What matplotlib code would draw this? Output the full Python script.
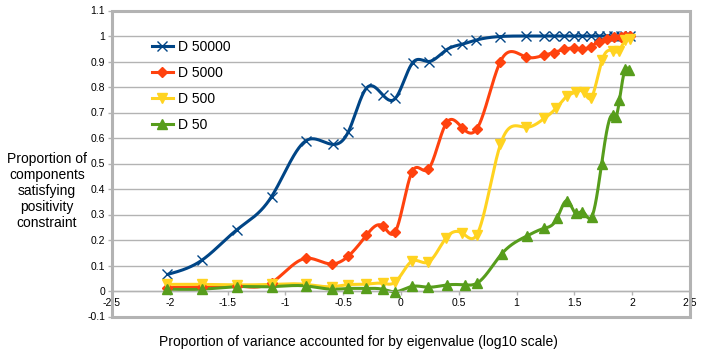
import numpy as np
import matplotlib
matplotlib.use('Agg')
import matplotlib.pyplot as plt
from matplotlib.patches import Rectangle

plt.rcParams['font.family'] = ['Liberation Sans', 'DejaVu Sans']

# series
x_50000 = [-2.02, -1.725, -1.42, -1.12, -0.82, -0.59, -0.455, -0.30, -0.16, -0.05,
           0.10, 0.24, 0.39, 0.53, 0.65, 0.86, 1.085, 1.24, 1.32, 1.41, 1.50, 1.57,
           1.64, 1.71, 1.78, 1.84, 1.90, 1.94, 1.98]
y_50000 = [0.065, 0.12, 0.24, 0.37, 0.59, 0.575, 0.625, 0.795, 0.77, 0.755,
           0.895, 0.90, 0.945, 0.968, 0.984, 0.998, 1.0, 1.0, 1.0, 1.0, 1.0, 1.0,
           1.0, 1.0, 1.0, 1.0, 1.0, 1.0, 1.0]

x_5000 = [-2.02, -1.725, -1.42, -1.12, -0.825, -0.60, -0.455, -0.30, -0.16, -0.05,
          0.095, 0.235, 0.39, 0.53, 0.655, 0.86, 1.085, 1.24, 1.32, 1.41, 1.50, 1.57,
          1.64, 1.71, 1.78, 1.84, 1.90, 1.94, 1.98]
y_5000 = [0.013, 0.017, 0.02, 0.033, 0.128, 0.106, 0.137, 0.218, 0.255, 0.232,
          0.467, 0.477, 0.657, 0.64, 0.635, 0.90, 0.917, 0.925, 0.935, 0.948, 0.952, 0.948,
          0.958, 0.978, 0.99, 0.995, 0.998, 1.0, 1.0]

x_500 = [-2.02, -1.725, -1.42, -1.12, -0.825, -0.60, -0.455, -0.30, -0.16, -0.05,
         0.095, 0.235, 0.39, 0.53, 0.655, 0.86, 1.085, 1.24, 1.34, 1.44, 1.51, 1.58,
         1.64, 1.74, 1.83, 1.885, 1.94, 1.98]
y_500 = [0.026, 0.026, 0.024, 0.026, 0.026, 0.017, 0.025, 0.027, 0.03, 0.035,
         0.117, 0.113, 0.208, 0.227, 0.22, 0.575, 0.642, 0.677, 0.716, 0.765, 0.78, 0.78,
         0.755, 0.906, 0.942, 0.942, 0.984, 0.99]

x_50 = [-2.02, -1.725, -1.42, -1.12, -0.825, -0.60, -0.455, -0.30, -0.16, -0.05,
        0.095, 0.235, 0.40, 0.55, 0.655, 0.87, 1.09, 1.24, 1.35, 1.44, 1.51, 1.57,
        1.65, 1.735, 1.83, 1.86, 1.89, 1.94, 1.97]
y_50 = [0.007, 0.007, 0.017, 0.017, 0.02, 0.007, 0.01, 0.01, 0.007, -0.003,
        0.018, 0.015, 0.024, 0.024, 0.03, 0.145, 0.216, 0.246, 0.285, 0.354, 0.305, 0.311,
        0.291, 0.497, 0.69, 0.684, 0.749, 0.87, 0.868]

labels = ['D 50000', 'D 5000', 'D 500', 'D 50']


def natural_spline(t, v, tt):
    t = np.asarray(t, float)
    v = np.asarray(v, float)
    n = len(t)
    h = np.diff(t)
    A = np.zeros((n, n))
    b = np.zeros(n)
    A[0, 0] = A[-1, -1] = 1
    for i in range(1, n - 1):
        A[i, i - 1] = h[i - 1]
        A[i, i] = 2 * (h[i - 1] + h[i])
        A[i, i + 1] = h[i]
        b[i] = 6 * ((v[i + 1] - v[i]) / h[i] - (v[i] - v[i - 1]) / h[i - 1])
    M = np.linalg.solve(A, b)
    idx = np.clip(np.searchsorted(t, tt) - 1, 0, n - 2)
    hi = h[idx]
    a = t[idx + 1] - tt
    c = tt - t[idx]
    return (M[idx] * a**3 / (6 * hi) + M[idx + 1] * c**3 / (6 * hi)
            + (v[idx] / hi - M[idx] * hi / 6) * a + (v[idx + 1] / hi - M[idx + 1] * hi / 6) * c)


def smooth(xs, ys):
    xx = np.linspace(xs[0], xs[-1], 1500)
    return xx, natural_spline(xs, ys, xx)


fig = plt.figure(figsize=(7.06, 3.61), dpi=100)
ax = fig.add_axes([112 / 706, 1 - 316.5 / 361, 578 / 706, 306 / 361])

grid_c = '#b3b3b3'
for g in np.arange(-0.1, 1.15, 0.1):
    ax.axhline(g, color=grid_c, lw=1, zorder=0)

series = [
    (x_50000, y_50000, '#004586', 'x', 7, 1.0),
    (x_5000, y_5000, '#ff420e', 'D', 5, 1.0),
    (x_500, y_500, '#ffd320', 'v', 7, 1.0),
    (x_50, y_50, '#579d1c', '^', 7, 1.0),
]
handles = []
for (xs, ys, col, mk, ms, mew), lab in zip(series, labels):
    sx, sy = smooth(xs, ys)
    ax.plot(sx, sy, color=col, lw=2.2, solid_capstyle='round', zorder=2)
    ax.plot(xs, ys, ls='none', marker=mk, ms=ms, color=col, mew=mew, zorder=3)
    h, = ax.plot([], [], color=col, lw=2.2, marker=mk, ms=ms, mew=mew)
    handles.append(h)

ax.set_xlim(-2.5, 2.5)
ax.set_ylim(-0.1, 1.1)
ax.set_xticks(np.arange(-2.5, 2.51, 0.5))
ax.set_xticklabels(['-2.5', '-2', '-1.5', '-1', '-0.5', '0', '0.5', '1', '1.5', '2', '2.5'])
ax.set_yticks(np.arange(-0.1, 1.11, 0.1))
ax.set_yticklabels(['-0.1', '0', '0.1', '0.2', '0.3', '0.4', '0.5', '0.6', '0.7',
                    '0.8', '0.9', '1', '1.1'])

for s in ['top', 'right', 'left']:
    ax.spines[s].set_visible(False)
ax.spines['bottom'].set_position(('data', 0))
ax.spines['bottom'].set_color(grid_c)
ax.spines['bottom'].set_linewidth(1)
ax.add_patch(Rectangle((0, 0), 1, 1, transform=ax.transAxes, fill=False,
                       ec=grid_c, lw=2.2, clip_on=False, zorder=5))
ax.tick_params(axis='both', direction='out', length=3, width=1, color=grid_c,
               labelsize=7.5, pad=2)

ax.legend(handles=handles, labels=labels, loc='upper left', frameon=False,
          bbox_to_anchor=(152 / 706, 1 - 40 / 361), bbox_transform=fig.transFigure,
          borderpad=0, borderaxespad=0, handlelength=1.5, handletextpad=0.35,
          labelspacing=0.86, numpoints=1, fontsize=10)

fig.text(47 / 706, 1 - 191 / 361,
         'Proportion of\ncomponents\nsatisfying\npositivity\nconstraint',
         ha='center', va='center', fontsize=10, linespacing=1.2)
fig.text(358 / 706, 1 - 342 / 361,
         'Proportion of variance accounted for by eigenvalue (log10 scale)',
         ha='center', va='center', fontsize=10)

fig.savefig('out.png', dpi=100)
